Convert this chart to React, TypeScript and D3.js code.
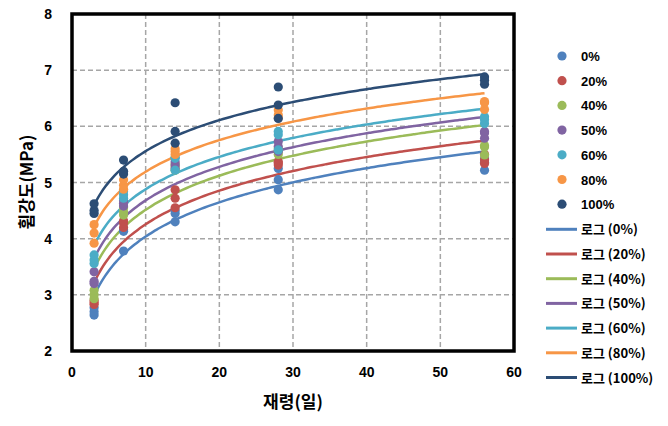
import React from "react";
import * as d3 from "d3";

const ages = [3, 7, 14, 28, 56];
const seriesNames = ["0%", "20%", "40%", "50%", "60%", "80%", "100%"];
const colors = ["#4F81BD", "#C0504D", "#9BBB59", "#8064A2", "#4BACC6", "#F79646", "#2C4D75"];

// three specimens per age, one row per age
const s0 = [[2.64, 2.7, 2.77], [3.78, 4.13, 4.16], [4.3, 4.45, 4.5], [4.87, 5.05, 5.25], [5.22, 5.36, 5.42]];
const s20 = [[2.83, 2.86, 2.9], [4.2, 4.28, 4.32], [4.55, 4.72, 4.87], [5.31, 5.35, 5.37], [5.34, 5.4, 5.5]];
const s40 = [[2.93, 3.0, 3.08], [4.42, 4.48, 4.55], [5.22, 5.28, 5.33], [5.5, 5.55, 5.6], [5.49, 5.63, 5.66]];
const s50 = [[3.2, 3.24, 3.41], [4.58, 4.63, 4.68], [5.25, 5.31, 5.37], [5.55, 5.64, 5.73], [5.79, 5.88, 5.91]];
const s60 = [[3.56, 3.62, 3.71], [4.72, 4.78, 4.85], [5.22, 5.43, 5.45], [5.58, 5.85, 5.91], [6.05, 6.12, 6.17]];
const s80 = [[3.92, 4.1, 4.25], [4.88, 4.95, 5.05], [5.5, 5.55, 5.6], [6.15, 6.2, 6.29], [6.3, 6.42, 6.44]];
const s100 = [[4.45, 4.5, 4.62], [5.15, 5.2, 5.4], [5.7, 5.91, 6.42], [6.14, 6.38, 6.7], [6.75, 6.82, 6.88]];
const allSeries = [s0, s20, s40, s50, s60, s80, s100];

const xTicks = [0, 10, 20, 30, 40, 50, 60];
const yTicks = [2, 3, 4, 5, 6, 7, 8];

const FONT = "'Liberation Sans', Arial, 'Noto Sans CJK KR', sans-serif";
const KFONT = "'Noto Sans CJK KR', 'Liberation Sans', sans-serif";

function logFit(pts: [number, number][]) {
  const lx = pts.map((p) => Math.log(p[0]));
  const ys = pts.map((p) => p[1]);
  const mx = d3.mean(lx) as number;
  const my = d3.mean(ys) as number;
  let num = 0, den = 0;
  lx.forEach((v, i) => {
    num += (v - mx) * (ys[i] - my);
    den += (v - mx) * (v - mx);
  });
  const a = num / den;
  return { a, b: my - a * mx };
}

export default function App() {
  const W = 668, H = 426;
  const x = d3.scaleLinear().domain([0, 60]).range([72, 514]);
  const y = d3.scaleLinear().domain([2, 8]).range([351, 14]);

  const series = allSeries.map((rows, si) => {
    const pts: [number, number][] = [];
    rows.forEach((vals, ai) => vals.forEach((v) => pts.push([ages[ai], v])));
    const fit = logFit(pts);
    const xs = d3.range(3, 56.01, 0.5);
    const line = d3
      .line<number>()
      .x((d) => x(d))
      .y((d) => y(fit.a * Math.log(d) + fit.b))
      .curve(d3.curveMonotoneX)(xs);
    return { pts, line, color: colors[si], name: seriesNames[si] };
  });

  return (
    <svg width={W} height={H} style={{ position: "absolute", left: 0, top: 0, background: "#fff" }}>
      {/* grid */}
      {xTicks.slice(1, -1).map((t) => (
        <line key={"gx" + t} x1={x(t)} x2={x(t)} y1={y(8)} y2={y(2)} stroke="#A6A6A6" strokeWidth={1.5} strokeDasharray="5,3" />
      ))}
      {yTicks.slice(1, -1).map((t) => (
        <line key={"gy" + t} x1={x(0)} x2={x(60)} y1={y(t)} y2={y(t)} stroke="#A6A6A6" strokeWidth={1.5} strokeDasharray="5,3" />
      ))}

      {/* trend lines */}
      {series.map((s) => (
        <path key={"l" + s.name} d={s.line || ""} fill="none" stroke={s.color} strokeWidth={2.5} />
      ))}

      {/* points */}
      {series.map((s) => (
        <g key={"p" + s.name}>
          {s.pts.map((p, i) => (
            <circle key={i} cx={x(p[0])} cy={y(p[1])} r={4.6} fill={s.color} />
          ))}
        </g>
      ))}

      {/* border */}
      <rect x={x(0)} y={y(8)} width={x(60) - x(0)} height={y(2) - y(8)} fill="none" stroke="#000" strokeWidth={3.5} />

      {/* ticks */}
      {yTicks.map((t) => (
        <text key={"yt" + t} x={52} y={y(t) + 5} textAnchor="end" fontFamily={FONT} fontWeight="bold" fontSize={14}>
          {t}
        </text>
      ))}
      {xTicks.map((t) => (
        <text key={"xt" + t} x={x(t)} y={377} textAnchor="middle" fontFamily={FONT} fontWeight="bold" fontSize={14}>
          {t}
        </text>
      ))}

      {/* axis titles */}
      <text x={293} y={408} textAnchor="middle" fontFamily={KFONT} fontWeight="bold" fontSize={17}>
        재령(일)
      </text>
      <text transform="translate(33,182) rotate(-90)" textAnchor="middle" fontFamily={KFONT} fontWeight="bold" fontSize={17}>
        휨강도(MPa)
      </text>

      {/* legend */}
      {series.map((s, i) => (
        <g key={"lg" + s.name}>
          <circle cx={562} cy={56 + i * 24.7} r={4.6} fill={s.color} />
          <text x={581} y={56 + i * 24.7 + 5} fontFamily={FONT} fontWeight="bold" fontSize={13}>
            {s.name}
          </text>
        </g>
      ))}
      {series.map((s, i) => (
        <g key={"ll" + s.name}>
          <line x1={546} x2={577} y1={229.3 + i * 24.7} y2={229.3 + i * 24.7} stroke={s.color} strokeWidth={3} />
          <text x={581} y={229.3 + i * 24.7 + 5} fontFamily={KFONT} fontWeight="bold" fontSize={13}>
            {"로그 (" + s.name + ")"}
          </text>
        </g>
      ))}
    </svg>
  );
}
